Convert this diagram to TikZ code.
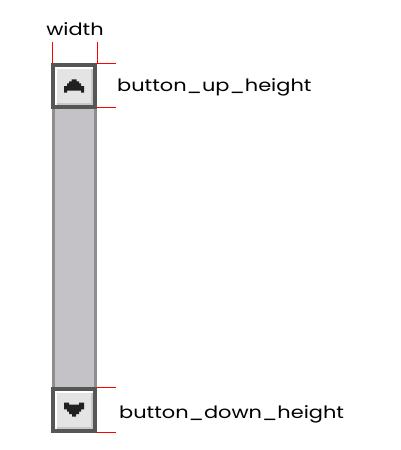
\documentclass[tikz,border=0pt]{standalone}
\usepackage{fontspec}
\setmainfont{Poppins}
\definecolor{btnborder}{HTML}{565656}
\definecolor{btnlight}{HTML}{E4E4E4}
\definecolor{btnshade}{HTML}{C8C8C8}
\definecolor{troughborder}{HTML}{8E8E8E}
\definecolor{troughfill}{HTML}{C4C2C6}
\definecolor{arrowcol}{HTML}{202020}
\newcommand{\widetext}[1]{\scalebox{1.23}[1]{#1}}
\tikzset{
  dim/.style={draw=red, line width=0.9pt},
  lbl/.style={inner sep=0pt, anchor=base west, font=\fontsize{17}{19}\selectfont},
}
\begin{document}
\begin{tikzpicture}[x=1pt,y=-1pt]
\useasboundingbox (0,0) rectangle (400,450);
\fill[white] (0,0) rectangle (400,450);
% trough
\fill[troughborder] (52,108) rectangle (97,388);
\fill[troughfill] (55,108) rectangle (94,388);
% up button
\fill[btnborder] (51,63) rectangle (97,109);
\fill[white] (55,67) rectangle (93,105);
\fill[btnshade] (57,69) rectangle (93,105);
\fill[btnlight] (57,69) rectangle (91,103);
\fill[arrowcol] (64,92.7) -- (64,86) -- (67,86) -- (67,83.3) -- (69,83.3) -- (69,81.3) -- (71.5,81.3) -- (71.5,79.3) -- (76.5,79.3) -- (76.5,81.3) -- (79,81.3) -- (79,83.3) -- (81,83.3) -- (81,86) -- (84,86) -- (84,92.7) -- (81,92.7) -- (81,90.7) -- (67,90.7) -- (67,92.7) -- cycle;
% down button
\fill[btnborder] (51,387) rectangle (97,433);
\fill[white] (55,391) rectangle (93,429);
\fill[btnshade] (57,393) rectangle (93,429);
\fill[btnlight] (57,393) rectangle (91,427);
\fill[arrowcol] (64,402.7) -- (69,402.7) -- (69,404.7) -- (79,404.7) -- (79,402.7) -- (84,402.7) -- (84,409.3) -- (81,409.3) -- (81,411.7) -- (79,411.7) -- (79,414) -- (76,414) -- (76,416.7) -- (72,416.7) -- (72,414) -- (69,414) -- (69,411.7) -- (67,411.7) -- (67,409.3) -- (64,409.3) -- cycle;
% dimension coordinates
\coordinate (wl1) at (52,42); \coordinate (wl2) at (52,63);
\coordinate (wr1) at (97,42); \coordinate (wr2) at (97,63);
\coordinate (u1a) at (97,63); \coordinate (u1b) at (116,63);
\coordinate (u2a) at (97,107.5); \coordinate (u2b) at (116,107.5);
\coordinate (d1a) at (97,387); \coordinate (d1b) at (116,387);
\coordinate (d2a) at (97,432.5); \coordinate (d2b) at (116,432.5);
\draw[dim] (wl1) -- (wl2);
\draw[dim] (wr1) -- (wr2);
\draw[dim] (u1a) -- (u1b);
\draw[dim] (u2a) -- (u2b);
\draw[dim] (d1a) -- (d1b);
\draw[dim] (d2a) -- (d2b);
% labels
\node[lbl, anchor=base] (w) at (75,35) {\widetext{width}};
\node[lbl] (bu) at (117,91.7) {\widetext{button\_up\_height}};
\node[lbl] (bd) at (119,418) {\widetext{button\_down\_height}};
\end{tikzpicture}
\end{document}
